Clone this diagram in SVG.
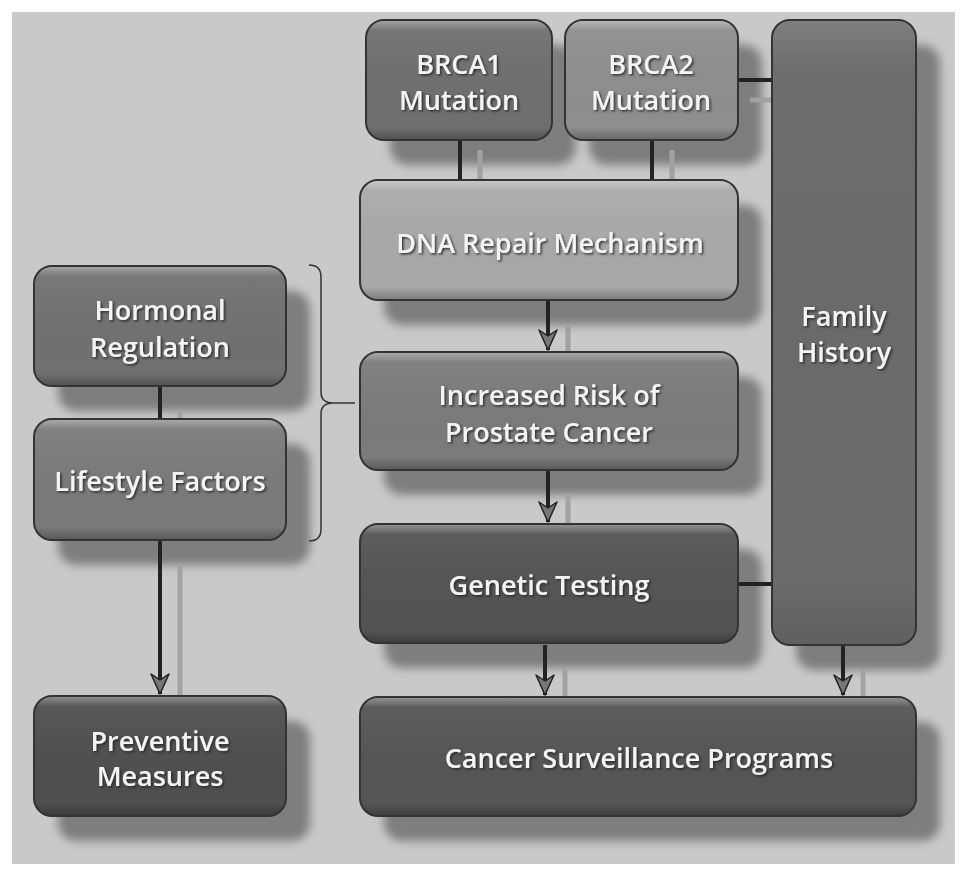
<svg xmlns="http://www.w3.org/2000/svg" width="969" height="877" viewBox="0 0 969 877">
<defs>
<style>
.box{stroke:#333;stroke-width:2}
.gl{fill:url(#gloss)}
.sh{fill:#7e7e7e;filter:url(#blur)}
.t{font-family:"Open Sans","DejaVu Sans",sans-serif;font-weight:600;font-size:27px;fill:#f4f4f4;text-anchor:middle;filter:url(#tsh)}
.ln{stroke:#222;stroke-width:4;fill:none}
.lns{stroke:#a2a2a2;stroke-width:5;fill:none}
</style>
<linearGradient id="gloss" x1="0" y1="0" x2="0" y2="1">
<stop offset="0" stop-color="#fff" stop-opacity="0.35"/>
<stop offset="0.08" stop-color="#fff" stop-opacity="0.05"/>
<stop offset="0.9" stop-color="#000" stop-opacity="0"/>
<stop offset="1" stop-color="#000" stop-opacity="0.25"/>
</linearGradient>
<filter id="blur" x="-20%" y="-20%" width="140%" height="140%"><feGaussianBlur stdDeviation="5"/></filter>
<filter id="tsh" x="-10%" y="-30%" width="120%" height="160%"><feDropShadow dx="1.5" dy="1.5" stdDeviation="0.8" flood-color="#222" flood-opacity="0.9"/></filter>
<marker id="ah" markerUnits="userSpaceOnUse" markerWidth="24" markerHeight="24" refX="22" refY="12" orient="auto" viewBox="0 0 24 24">
<path d="M2,3 L22,12 L2,21 L8,12 Z" fill="#777" stroke="#222" stroke-width="1.5" stroke-linejoin="round"/>
</marker>
</defs>
<rect x="0" y="0" width="969" height="877" fill="#fff"/>
<rect x="12" y="12" width="943" height="852" fill="#c9c9c9"/>

<g id="shadows">
<rect class="sh" x="390" y="45" width="186" height="120" rx="18"/>
<rect class="sh" x="589" y="45" width="173" height="120" rx="18"/>
<rect class="sh" x="796" y="45" width="144" height="625" rx="18"/>
<rect class="sh" x="384" y="205" width="378" height="120" rx="18"/>
<rect class="sh" x="384" y="377" width="378" height="118" rx="18"/>
<rect class="sh" x="384" y="549" width="378" height="119" rx="18"/>
<rect class="sh" x="384" y="722" width="556" height="119" rx="18"/>
<rect class="sh" x="58" y="291" width="252" height="120" rx="18"/>
<rect class="sh" x="58" y="444" width="252" height="121" rx="18"/>
<rect class="sh" x="58" y="721" width="252" height="120" rx="18"/>
</g>

<g id="connectors">
<line class="lns" x1="480" y1="150" x2="480" y2="180"/>
<line class="lns" x1="672" y1="150" x2="672" y2="180"/>
<line class="lns" x1="750" y1="100" x2="772" y2="100"/>
<line class="lns" x1="568" y1="325" x2="568" y2="352"/>
<line class="lns" x1="568" y1="495" x2="568" y2="524"/>
<line class="lns" x1="565" y1="668" x2="565" y2="697"/>
<line class="lns" x1="863" y1="670" x2="863" y2="697"/>
<line class="lns" x1="180" y1="411" x2="180" y2="419"/>
<line class="lns" x1="180" y1="565" x2="180" y2="696"/>
<line class="ln" x1="460" y1="140" x2="460" y2="180"/>
<line class="ln" x1="652" y1="140" x2="652" y2="180"/>
<line class="ln" x1="738" y1="80" x2="772" y2="80"/>
<line class="ln" x1="738" y1="584" x2="772" y2="584"/>
<line class="ln" x1="160" y1="386" x2="160" y2="419"/>
<line class="ln" x1="548" y1="300" x2="548" y2="350" marker-end="url(#ah)"/>
<line class="ln" x1="548" y1="470" x2="548" y2="522" marker-end="url(#ah)"/>
<line class="ln" x1="545" y1="645" x2="545" y2="695" marker-end="url(#ah)"/>
<line class="ln" x1="843" y1="645" x2="843" y2="695" marker-end="url(#ah)"/>
<line class="ln" x1="160" y1="540" x2="160" y2="694" marker-end="url(#ah)"/>
<path d="M309,265 Q321,265 321,277 L321,392 Q321,403 333,403 L355,403 M333,403 Q321,403 321,414 L321,529 Q321,541 309,541" fill="none" stroke="#333" stroke-width="1.5"/>
</g>

<g id="brca1"><rect class="box" x="366" y="20" width="186" height="120" rx="18" fill="#6f6f6f"/><rect class="gl" x="367" y="21" width="184" height="118" rx="17"/>
<text class="t" x="459" y="74">BRCA1</text><text class="t" x="459" y="110">Mutation</text></g>
<g id="brca2"><rect class="box" x="565" y="20" width="173" height="120" rx="18" fill="#8e8e8e"/><rect class="gl" x="566" y="21" width="171" height="118" rx="17"/>
<text class="t" x="651" y="74">BRCA2</text><text class="t" x="651" y="110">Mutation</text></g>
<g id="family"><rect class="box" x="772" y="20" width="144" height="625" rx="18" fill="#6a6a6a"/><rect class="gl" x="773" y="21" width="142" height="623" rx="17" opacity="0.4"/>
<text class="t" x="844" y="326">Family</text><text class="t" x="844" y="362">History</text></g>
<g id="dna"><rect class="box" x="360" y="180" width="378" height="120" rx="18" fill="#a9a9a9"/><rect class="gl" x="361" y="181" width="376" height="118" rx="17"/>
<text class="t" x="550" y="253">DNA Repair Mechanism</text></g>
<g id="risk"><rect class="box" x="360" y="352" width="378" height="118" rx="18" fill="#7b7b7b"/><rect class="gl" x="361" y="353" width="376" height="116" rx="17"/>
<text class="t" x="549" y="405">Increased Risk of</text><text class="t" x="549" y="442">Prostate Cancer</text></g>
<g id="genetic"><rect class="box" x="360" y="524" width="378" height="119" rx="18" fill="#545454"/><rect class="gl" x="361" y="525" width="376" height="117" rx="17"/>
<text class="t" x="549" y="595">Genetic Testing</text></g>
<g id="surveillance"><rect class="box" x="360" y="697" width="556" height="119" rx="18" fill="#555"/><rect class="gl" x="361" y="698" width="554" height="117" rx="17"/>
<text class="t" x="639" y="768">Cancer Surveillance Programs</text></g>
<g id="hormonal"><rect class="box" x="34" y="266" width="252" height="120" rx="18" fill="#717171"/><rect class="gl" x="35" y="267" width="250" height="118" rx="17"/>
<text class="t" x="160" y="320">Hormonal</text><text class="t" x="160" y="357">Regulation</text></g>
<g id="lifestyle"><rect class="box" x="34" y="419" width="252" height="121" rx="18" fill="#7a7a7a"/><rect class="gl" x="35" y="420" width="250" height="119" rx="17"/>
<text class="t" x="160" y="491">Lifestyle Factors</text></g>
<g id="preventive"><rect class="box" x="34" y="696" width="252" height="120" rx="18" fill="#4f4f4f"/><rect class="gl" x="35" y="697" width="250" height="118" rx="17"/>
<text class="t" x="160" y="751">Preventive</text><text class="t" x="160" y="786">Measures</text></g>
</svg>
